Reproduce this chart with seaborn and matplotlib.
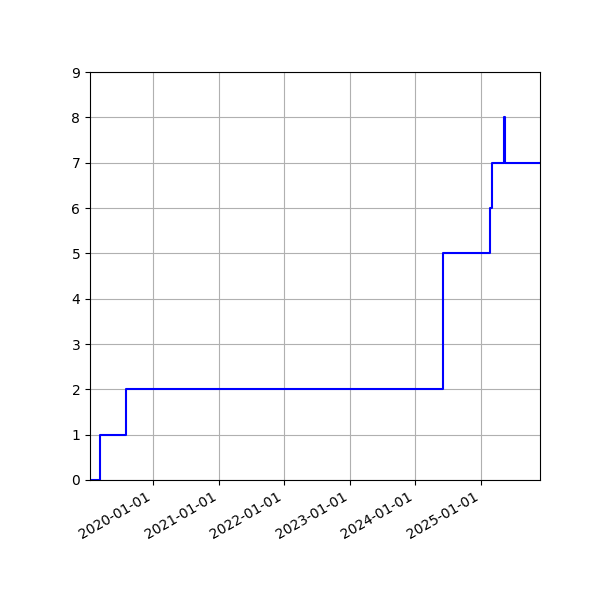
import pandas as pd
import matplotlib
matplotlib.use("Agg")
import matplotlib.pyplot as plt
import matplotlib.dates as mdates
import seaborn as sns

# step changes in the count over time
dates = ["2019-01-13", "2019-03-08", "2019-07-31", "2024-06-05", "2025-02-20",
         "2025-03-05", "2025-05-09", "2025-05-14", "2025-11-28"]
counts = [0, 1, 2, 5, 6, 7, 8, 7, 7]

df = pd.DataFrame({"date": pd.to_datetime(dates), "count": counts})

fig, ax = plt.subplots(figsize=(6, 6), dpi=100)
sns.lineplot(data=df, x="date", y="count", drawstyle="steps-post",
             color="blue", ax=ax)

ax.set_xlim(df["date"].min(), df["date"].max())
ax.set_ylim(0, 9)
ax.set_xlabel("")
ax.set_ylabel("")
ax.grid(True)
ax.xaxis.set_major_locator(mdates.YearLocator())
ax.xaxis.set_major_formatter(mdates.DateFormatter("%Y-%m-%d"))
fig.autofmt_xdate()
fig.subplots_adjust(left=0.15, right=0.9, top=0.88, bottom=0.2)

fig.savefig("out.png")
